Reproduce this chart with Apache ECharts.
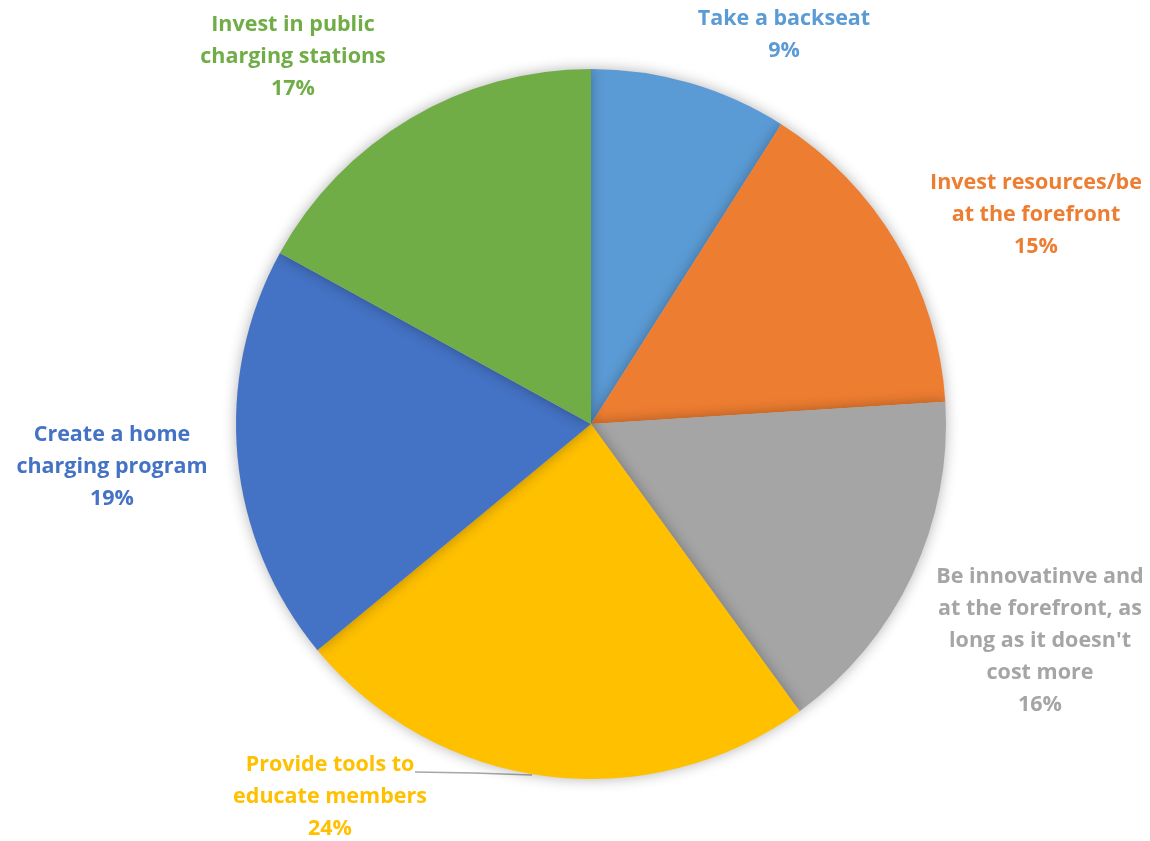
<!DOCTYPE html>
<html>
<head>
<meta charset="utf-8">
<style>
  html, body { margin: 0; padding: 0; background: #ffffff; }
  #chart { width: 1150px; height: 841px; }
</style>
<script src="https://cdn.jsdelivr.net/npm/echarts@6/dist/echarts.min.js"></script>
</head>
<body>
<div id="chart"></div>
<script>
// Survey answers, clockwise from 12 o'clock
const categories = [
  'Take a backseat',
  'Invest resources/be\nat the forefront',
  "Be innovatinve and\nat the forefront, as\nlong as it doesn't\ncost more",
  'Provide tools to\neducate members',
  'Create a home\ncharging program',
  'Invest in public\ncharging stations'
];
const shares = [9, 15, 16, 24, 19, 17];
const sliceColors = ['#5B9BD5', '#ED7D31', '#A5A5A5', '#FFC000', '#4472C4', '#70AD47'];

// Where each label block is centred (pixels)
const labelSpots = [
  [784, 35], [1036, 215], [1040, 641], [330, 797], [112, 467], [293, 57]
];

const chart = echarts.init(document.getElementById('chart'), null, { renderer: 'canvas' });

chart.setOption({
  animation: false,
  backgroundColor: '#ffffff',
  series: [{
    type: 'pie',
    center: [591, 424],
    radius: [0, 355],
    startAngle: 90,
    clockwise: true,
    avoidLabelOverlap: false,
    itemStyle: {
      borderWidth: 0,
      shadowBlur: 14,
      shadowColor: 'rgba(0,0,0,0.3)',
      shadowOffsetX: 0,
      shadowOffsetY: 0
    },
    label: {
      show: true,
      position: 'outside',
      formatter: '{b}\n{c}%',
      fontFamily: '"Open Sans", Lato, sans-serif',
      fontWeight: 'bold',
      fontSize: 21.5,
      lineHeight: 32,
      align: 'center'
    },
    labelLine: {
      show: true,
      lineStyle: { color: '#A6A6A6', width: 1.5 }
    },
    labelLayout: function (p) {
      const spot = labelSpots[p.dataIndex];
      const out = { x: spot[0], y: spot[1], align: 'center', verticalAlign: 'middle' };
      if (p.dataIndex === 3) {
        out.labelLinePoints = [[415, 772], [474, 773], [532, 775]];
      }
      return out;
    },
    data: categories.map(function (name, i) {
      return {
        name: name,
        value: shares[i],
        itemStyle: { color: sliceColors[i] },
        label: { color: sliceColors[i] },
        labelLine: { show: i === 3 }
      };
    })
  }]
});
</script>
</body>
</html>
